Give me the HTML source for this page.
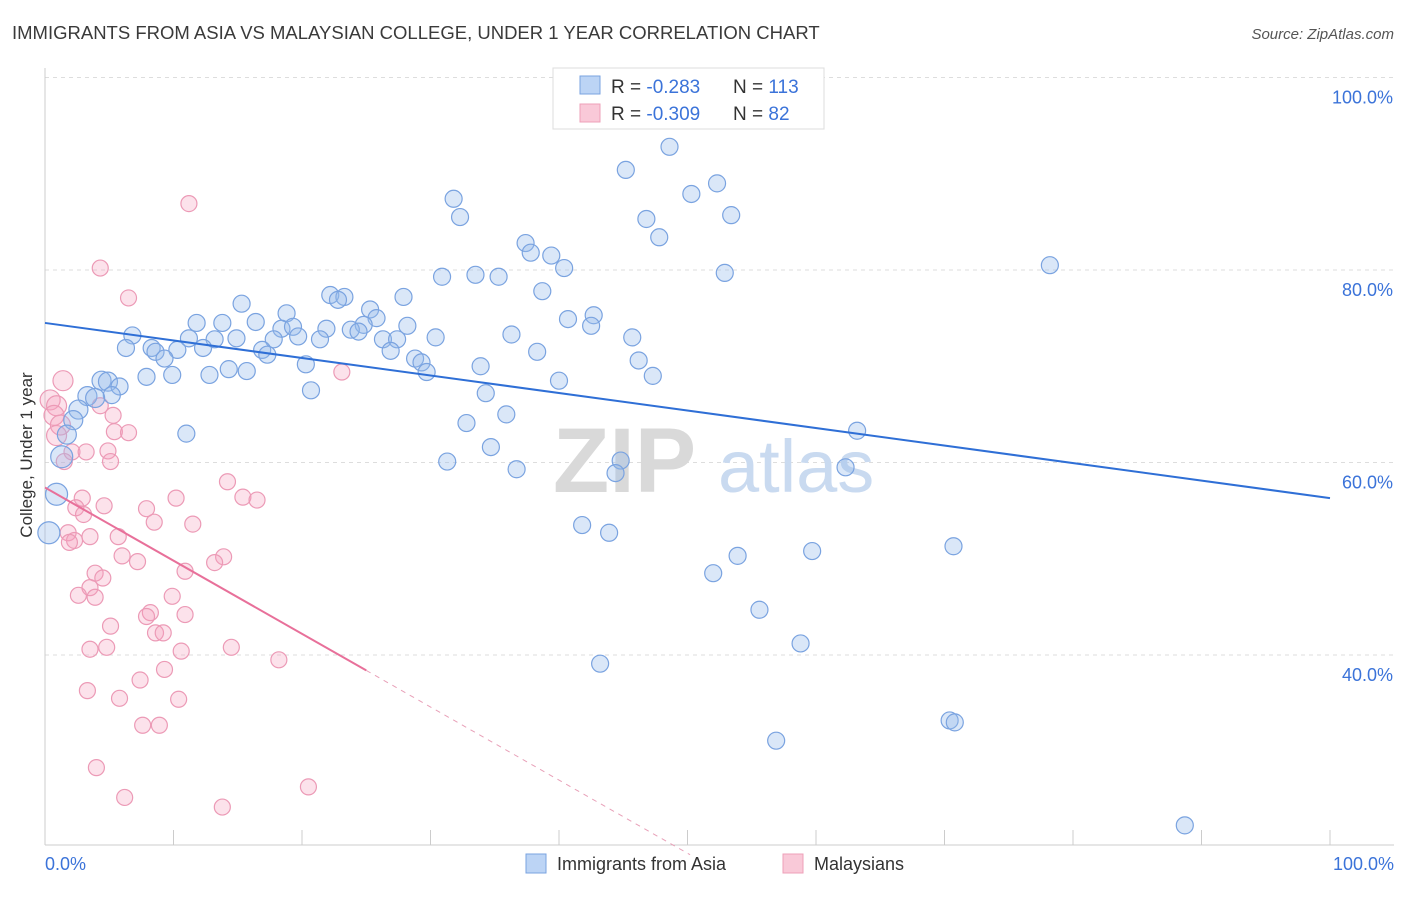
<!DOCTYPE html>
<html><head><meta charset="utf-8"><style>
body{margin:0;background:#fff;font-family:"Liberation Sans",sans-serif}
svg text{font-family:"Liberation Sans",sans-serif}
</style></head><body>
<svg id="chart" width="1406" height="892" viewBox="0 0 1406 892" xmlns="http://www.w3.org/2000/svg">
<text x="12" y="39" font-size="18.5" fill="#3a3a3a">IMMIGRANTS FROM ASIA VS MALAYSIAN COLLEGE, UNDER 1 YEAR CORRELATION CHART</text>
<text x="1394" y="39" font-size="15" fill="#555" font-style="italic" text-anchor="end">Source: ZipAtlas.com</text>
<g id="grid"></g>
<g>
<text x="553" y="492" font-size="92" fill="#d9d9d9" font-family="Liberation Serif" font-weight="bold">ZIP</text>
<text x="718" y="492" font-size="74" fill="#c9daf0">atlas</text>
</g>
<g id="axes"></g>
<g id="pinkpts"></g>
<g id="bluepts"></g>
<g id="lines"></g>
<text x="32" y="455" font-size="17" fill="#333" text-anchor="middle" transform="rotate(-90 32 455)">College, Under 1 year</text>
<text x="45" y="870" font-size="18" fill="#3b73d9">0.0%</text>
<text x="1394" y="870" font-size="18" fill="#3b73d9" text-anchor="end">100.0%</text>
<g>
<rect x="553" y="68" width="271" height="61" fill="#fff" stroke="#ddd"/>
<rect x="580" y="76" width="20" height="18" fill="#bcd4f5" stroke="#7aa3e0"/>
<rect x="580" y="104" width="20" height="18" fill="#f9c9d8" stroke="#eea0b8"/>
<text x="611" y="93" font-size="19" fill="#333">R = <tspan fill="#3b73d9">-0.283</tspan><tspan x="733">N = </tspan><tspan fill="#3b73d9">113</tspan></text>
<text x="611" y="120" font-size="19" fill="#333">R = <tspan fill="#3b73d9">-0.309</tspan><tspan x="733">N = </tspan><tspan fill="#3b73d9"> 82</tspan></text>
</g>
<g>
<rect x="526" y="854" width="20" height="19" fill="#bcd4f5" stroke="#7aa3e0"/>
<text x="557" y="870" font-size="18" fill="#333">Immigrants from Asia</text>
<rect x="783" y="854" width="20" height="19" fill="#f9c9d8" stroke="#eea0b8"/>
<text x="814" y="870" font-size="18" fill="#333">Malaysians</text>
</g>
</svg>
<script>
const yTicks=[100,80,60,40];
const yTickLabels=["100.0%","80.0%","60.0%","40.0%"];
const xTicks=[0,10,20,30,40,50,60,70,80,90,100];
const blueX=[48.6,45.2,50.3,52.3,31.8,32.3,46.8,53.4,47.8,37.4,37.8,39.4,40.4,78.2,52.9,30.9,33.5,35.3,38.7,27.9,22.2,23.3,22.8,15.3,25.3,18.8,25.8,40.7,42.7,16.4,28.2,24.8,42.5,11.8,13.8,18.4,19.3,21.9,23.8,24.4,36.3,6.8,11.2,13.2,14.9,17.8,19.7,21.4,26.3,27.4,30.4,45.7,6.3,8.3,10.3,12.3,16.9,8.6,9.3,17.3,26.9,38.3,28.8,29.3,20.3,29.7,46.2,33.9,14.3,15.7,12.8,9.9,7.9,47.3,40.0,4.4,4.9,5.8,20.7,3.3,5.2,3.9,34.3,2.6,35.9,2.2,32.8,11.0,1.7,63.2,34.7,1.3,31.3,44.8,36.7,44.4,62.3,0.9,41.8,43.9,0.3,70.7,59.7,53.9,52.0,55.6,58.8,43.2,70.4,70.8,56.9,88.7];
const blueY=[92.8,90.4,87.9,89.0,87.4,85.5,85.3,85.7,83.4,82.8,81.8,81.5,80.2,80.5,79.7,79.3,79.5,79.3,77.8,77.2,77.4,77.2,76.9,76.5,75.9,75.5,75.0,74.9,75.3,74.6,74.2,74.3,74.2,74.5,74.5,73.9,74.1,73.9,73.8,73.6,73.3,73.2,72.9,72.8,72.9,72.8,73.1,72.8,72.8,72.8,73.0,73.0,71.9,71.9,71.7,71.9,71.7,71.5,70.8,71.2,71.6,71.5,70.8,70.4,70.2,69.4,70.6,70.0,69.7,69.5,69.1,69.1,68.9,69.0,68.5,68.5,68.4,67.9,67.5,66.9,67.0,66.7,67.2,65.5,65.0,64.4,64.1,63.0,62.9,63.3,61.6,60.6,60.1,60.2,59.3,58.9,59.5,56.7,53.5,52.7,52.7,51.3,50.8,50.3,48.5,44.7,41.2,39.1,33.2,33.0,31.1,22.3];
const pinkX=[11.2,4.3,6.5,23.1,1.4,0.4,0.9,4.3,5.3,0.7,1.2,5.4,6.5,0.9,2.1,4.9,3.2,1.5,5.1,14.2,10.2,2.9,15.4,16.5,4.6,2.4,7.9,3.0,8.5,11.5,1.8,5.7,3.5,2.3,1.9,6.0,13.9,7.2,13.2,10.9,3.9,4.5,3.5,2.6,3.9,9.9,8.2,7.9,10.9,5.1,8.6,9.2,3.5,4.8,10.6,14.5,18.2,9.3,7.4,3.3,5.8,10.4,7.6,8.9,4.0,6.2,13.8,20.5];
const pinkY=[86.9,80.2,77.1,69.4,68.5,66.5,65.9,65.9,64.9,64.9,63.9,63.2,63.1,62.8,61.1,61.2,61.1,60.1,60.1,58.0,56.3,56.3,56.4,56.1,55.5,55.3,55.2,54.6,53.8,53.6,52.7,52.3,52.3,51.9,51.7,50.3,50.2,49.7,49.6,48.7,48.5,48.0,47.0,46.2,46.0,46.1,44.4,44.0,44.2,43.0,42.3,42.3,40.6,40.8,40.4,40.8,39.5,38.5,37.4,36.3,35.5,35.4,32.7,32.7,28.3,25.2,24.2,26.3];
const blueTrend=[74.5,56.3];
const pinkTrend=[57.4,-0.76];
const NS="http://www.w3.org/2000/svg";
const X=v=>45+v*12.85;
const Y=v=>1040-v*9.625;
function mk(tag,attrs,parent){const e=document.createElementNS(NS,tag);for(const k in attrs)e.setAttribute(k,attrs[k]);parent.appendChild(e);return e;}
const grid=document.getElementById('grid'),axes=document.getElementById('axes');
yTicks.forEach((t,i)=>{
 const l=mk('line',{x1:45,x2:1394,y1:Y(t),y2:Y(t),stroke:'#ddd','stroke-dasharray':'4,4'},grid);
 
 
 const tx=mk('text',{x:1393,y:Y(t)+26,'font-size':18,fill:'#3b73d9','text-anchor':'end'},grid);
 tx.textContent=yTickLabels[i];
 
 
});
const ax=mk('line',{x1:45,x2:1394,y1:845,y2:845,stroke:'#ccc'},axes);


const ay=mk('line',{x1:45,x2:45,y1:68,y2:845,stroke:'#ccc'},axes);


xTicks.forEach(t=>{
 const l=mk('line',{x1:X(t),x2:X(t),y1:830,y2:845,stroke:'#ccc'},axes);
 
 
});
const bp=document.getElementById('bluepts'),pp=document.getElementById('pinkpts');
pinkX.forEach((v,i)=>{
 const r=v<1.5?10:8;
 const c=mk('circle',{cx:X(v),cy:Y(pinkY[i]),r:r,fill:'rgba(244,160,190,0.3)',stroke:'#ec9ab6','stroke-width':1.2},pp);
 
 
});
blueX.forEach((v,i)=>{
 const r=v<1.5?11:(v<5?9.5:8.5);
 const c=mk('circle',{cx:X(v),cy:Y(blueY[i]),r:r,fill:'rgba(150,185,235,0.35)',stroke:'#7aa3e0','stroke-width':1.2},bp);
 
 
});
const ln=document.getElementById('lines');
const b=mk('line',{x1:X(0),y1:Y(blueTrend[0]),x2:X(100),y2:Y(blueTrend[1]),stroke:'#2f6fd6','stroke-width':2},ln);


const pf=x=>pinkTrend[0]+pinkTrend[1]*x;
const p1=mk('line',{x1:X(0),y1:Y(pf(0)),x2:X(25),y2:Y(pf(25)),stroke:'#e8709a','stroke-width':2},ln);


const p2=mk('line',{x1:X(25),y1:Y(pf(25)),x2:X(50.2),y2:Y(pf(50.2)),stroke:'#e8a0b8','stroke-width':1,'stroke-dasharray':'5,5'},ln);


</script>
</body></html>
